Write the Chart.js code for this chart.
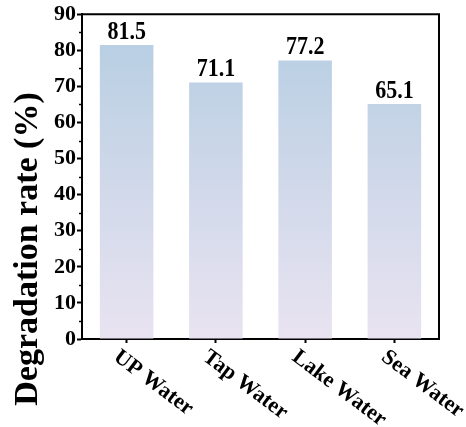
<!DOCTYPE html>
<html>
<head>
<meta charset="utf-8">
<script src="https://cdn.jsdelivr.net/npm/chart.js@4/dist/chart.umd.min.js"></script>
<style>
  html, body { margin: 0; padding: 0; background: #fff; }
</style>
</head>
<body>
<canvas id="rateChart" width="466" height="427"></canvas>
<script>
const categories = ["UP Water", "Tap Water", "Lake Water", "Sea Water"];
const rates = [81.5, 71.1, 77.2, 65.1];
const valueLabels = ["81.5", "71.1", "77.2", "65.1"];
const yMin = 0;
const yMax = 90;
const yStep = 10;
const minorTicks = [5, 15, 25, 35, 45, 55, 65, 75, 85];
const yTitle = "Degradation rate (%)";

const SERIF = '"Liberation Serif", "Times New Roman", Times, serif';

function barGradient(context) {
  const chart = context.chart;
  const area = chart.chartArea;
  if (!area) return "#c8d6e8";
  const y = chart.scales.y;
  const g = chart.ctx.createLinearGradient(0, y.getPixelForValue(Math.max(...rates)), 0, area.bottom);
  g.addColorStop(0, "#b9cfe3");
  g.addColorStop(1, "#e9e3f1");
  return g;
}

const decorations = {
  id: "decorations",
  afterDraw(chart) {
    const ctx = chart.ctx;
    const area = chart.chartArea;
    const x = chart.scales.x;
    const y = chart.scales.y;
    ctx.save();

    // frame top + right
    ctx.strokeStyle = "#000";
    ctx.lineWidth = 2;
    ctx.beginPath();
    ctx.moveTo(area.left, area.top);
    ctx.lineTo(area.right, area.top);
    ctx.lineTo(area.right, area.bottom);
    ctx.stroke();

    // minor ticks on y axis
    ctx.lineWidth = 1.5;
    minorTicks.forEach(v => {
      const py = Math.round(y.getPixelForValue(v)) + 0.5;
      ctx.beginPath();
      ctx.moveTo(area.left - 3, py);
      ctx.lineTo(area.left, py);
      ctx.stroke();
    });

    // values above bars (slightly tall, like the source figure)
    ctx.fillStyle = "#000";
    ctx.font = "bold 22px " + SERIF;
    ctx.textAlign = "center";
    ctx.textBaseline = "alphabetic";
    rates.forEach((v, i) => {
      ctx.save();
      ctx.translate(x.getPixelForValue(i), y.getPixelForValue(v) - 6);
      ctx.scale(1, 1.13);
      ctx.fillText(valueLabels[i], 0, 0);
      ctx.restore();
    });

    // rotated category labels
    ctx.font = "bold 22px " + SERIF;
    ctx.textAlign = "left";
    ctx.textBaseline = "top";
    categories.forEach((c, i) => {
      ctx.save();
      ctx.translate(x.getPixelForValue(i) - 4, area.bottom + 7);
      ctx.rotate(37 * Math.PI / 180);
      ctx.fillText(c, 0, 0);
      ctx.restore();
    });

    // y title
    ctx.font = "bold 34px " + SERIF;
    ctx.textAlign = "center";
    ctx.textBaseline = "alphabetic";
    ctx.translate(37, 249);
    ctx.rotate(-Math.PI / 2);
    ctx.fillText(yTitle, 0, 0);

    ctx.restore();
  }
};

new Chart(document.getElementById("rateChart"), {
  type: "bar",
  data: {
    labels: categories,
    datasets: [{
      data: rates,
      backgroundColor: barGradient,
      borderWidth: 0,
      barPercentage: 0.6,
      categoryPercentage: 1
    }]
  },
  options: {
    responsive: false,
    devicePixelRatio: 1,
    animation: false,
    layout: { padding: { left: 0, right: 27, top: 13, bottom: 0 } },
    plugins: {
      legend: { display: false },
      tooltip: { enabled: false }
    },
    scales: {
      x: {
        offset: true,
        grid: {
          offset: false,
          drawOnChartArea: false,
          drawTicks: true,
          tickLength: 4,
          tickWidth: 2,
          tickColor: "#000"
        },
        border: { display: true, color: "#000", width: 2 },
        ticks: { display: false },
        afterFit: s => { s.height = 88; }
      },
      y: {
        min: yMin,
        max: yMax,
        grid: {
          drawOnChartArea: false,
          drawTicks: true,
          tickLength: 5,
          tickWidth: 2,
          tickColor: "#000"
        },
        border: { display: true, color: "#000", width: 2 },
        ticks: {
          stepSize: yStep,
          padding: 1,
          color: "#000",
          font: { family: SERIF, size: 22, weight: "bold" }
        },
        afterFit: s => { s.width = 82; }
      }
    }
  },
  plugins: [decorations]
});
</script>
</body>
</html>
